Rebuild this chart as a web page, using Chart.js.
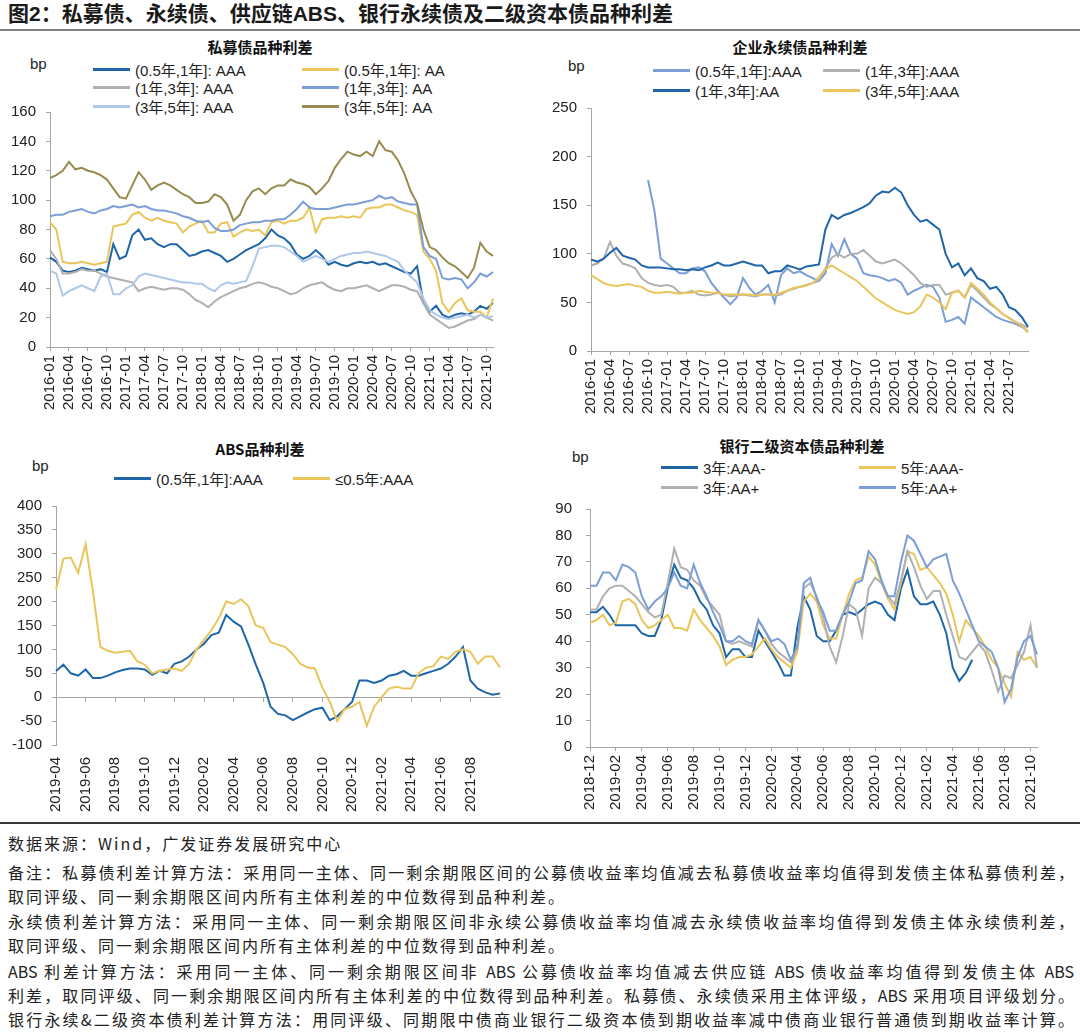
<!DOCTYPE html>
<html lang="zh-CN">
<head>
<meta charset="utf-8">
<title>图2：私募债、永续债、供应链ABS、银行永续债及二级资本债品种利差</title>
<script src="https://cdn.jsdelivr.net/npm/chart.js@4.4.1/dist/chart.umd.min.js"></script>
<style>
  html, body { margin: 0; padding: 0; background: #fff; }
  body { width: 1080px; height: 1034px; position: relative; overflow: hidden;
         font-family: "Liberation Sans", Arial, "Noto Sans CJK SC", sans-serif; color: #222; }
  .abs { position: absolute; }
  #mainTitle { left: 8px; top: 1px; font: 700 21px/26px "Liberation Sans", "Noto Sans CJK SC", sans-serif; color: #1a1a1a; white-space: nowrap; }
  #topRule { left: 0; top: 29px; width: 1080px; height: 2px; background: #808080; }
  #bottomRule { left: 0; top: 822px; width: 1080px; height: 2px; background: #3a3a3a; }
  .ctitle { font: 700 15px/20px "Noto Sans CJK SC", sans-serif; transform: translateX(-50%); white-space: nowrap; color: #111; }
  .unit { font-size: 15px; line-height: 18px; }
  .legend { display: grid; font-size: 15px; }
  .legend .item { display: flex; align-items: center; white-space: nowrap; }
  .legend .swatch { display: inline-block; width: 37px; height: 3px; margin-right: 5px; }
  .note { left: 8px; width: 1066px; font: 400 16px/24px "Noto Sans CJK SC", sans-serif; color: #222; }
  .note.full { text-align: justify; text-align-last: justify; }
  .note.part { letter-spacing: 2px; white-space: nowrap; }
</style>
</head>
<body>
<div id="mainTitle" class="abs">图2：私募债、永续债、供应链ABS、银行永续债及二级资本债品种利差</div>
<div id="topRule" class="abs"></div>

<div class="abs ctitle" style="left:260px; top:37px;">私募债品种利差</div>
<div class="abs unit" style="left:30px; top:55px;">bp</div>
<div id="legPriv" class="abs legend" style="left:93px; top:60px; grid-template-columns:209px auto; grid-auto-rows:18.5px;"></div>
<canvas id="chartPriv" class="abs" width="540" height="326" style="left:0; top:93px;"></canvas>

<div class="abs ctitle" style="left:800px; top:37px;">企业永续债品种利差</div>
<div class="abs unit" style="left:568px; top:57px;">bp</div>
<div id="legPerp" class="abs legend" style="left:653px; top:60px; grid-template-columns:170px auto; grid-auto-rows:20px;"></div>
<canvas id="chartPerp" class="abs" width="540" height="334" style="left:540px; top:89px;"></canvas>

<div class="abs ctitle" style="left:260px; top:439px;">ABS品种利差</div>
<div class="abs unit" style="left:32px; top:457px;">bp</div>
<div id="legAbs" class="abs legend" style="left:114px; top:468px; grid-template-columns:179px auto; grid-auto-rows:20px;"></div>
<canvas id="chartAbs" class="abs" width="540" height="330" style="left:0; top:487px;"></canvas>

<div class="abs ctitle" style="left:802px; top:436px;">银行二级资本债品种利差</div>
<div class="abs unit" style="left:572px; top:448px;">bp</div>
<div id="legBank" class="abs legend" style="left:661px; top:457px; grid-template-columns:198px auto; grid-auto-rows:20px;"></div>
<canvas id="chartBank" class="abs" width="540" height="333" style="left:540px; top:486px;"></canvas>

<div id="bottomRule" class="abs"></div>
<div class="abs note part" style="top:831px;">数据来源：Wind，广发证券发展研究中心</div>
<div class="abs note full" style="top:860px;">备注：私募债利差计算方法：采用同一主体、同一剩余期限区间的公募债收益率均值减去私募债收益率均值得到发债主体私募债利差，</div>
<div class="abs note part" style="top:884px;">取同评级、同一剩余期限区间内所有主体利差的中位数得到品种利差。</div>
<div class="abs note full" style="top:909px;">永续债利差计算方法：采用同一主体、同一剩余期限区间非永续公募债收益率均值减去永续债收益率均值得到发债主体永续债利差，</div>
<div class="abs note part" style="top:933px;">取同评级、同一剩余期限区间内所有主体利差的中位数得到品种利差。</div>
<div class="abs note full" style="top:959px;">ABS 利差计算方法：采用同一主体、同一剩余期限区间非 ABS 公募债收益率均值减去供应链 ABS 债收益率均值得到发债主体 ABS</div>
<div class="abs note full" style="top:983px;">利差，取同评级、同一剩余期限区间内所有主体利差的中位数得到品种利差。私募债、永续债采用主体评级，ABS 采用项目评级划分。</div>
<div class="abs note full" style="top:1007px;">银行永续&amp;二级资本债利差计算方法：用同评级、同期限中债商业银行二级资本债到期收益率减中债商业银行普通债到期收益率计算。</div>

<script>
// ---- categories (monthly for the top panels, half-monthly for the bottom ones)
const privCats = [
  '2016-01','2016-02','2016-03','2016-04','2016-05','2016-06','2016-07','2016-08','2016-09','2016-10','2016-11','2016-12',
  '2017-01','2017-02','2017-03','2017-04','2017-05','2017-06','2017-07','2017-08','2017-09','2017-10','2017-11','2017-12',
  '2018-01','2018-02','2018-03','2018-04','2018-05','2018-06','2018-07','2018-08','2018-09','2018-10','2018-11','2018-12',
  '2019-01','2019-02','2019-03','2019-04','2019-05','2019-06','2019-07','2019-08','2019-09','2019-10','2019-11','2019-12',
  '2020-01','2020-02','2020-03','2020-04','2020-05','2020-06','2020-07','2020-08','2020-09','2020-10','2020-11','2020-12',
  '2021-01','2021-02','2021-03','2021-04','2021-05','2021-06','2021-07','2021-08','2021-09','2021-10','2021-11'
];
const perpCats = privCats.slice(0, 70); // 2016-01 .. 2021-10

const absCats = [
  '2019-04-01','2019-04-16','2019-05-01','2019-05-16','2019-06-01','2019-06-16','2019-07-01','2019-07-16',
  '2019-08-01','2019-08-16','2019-09-01','2019-09-16','2019-10-01','2019-10-16','2019-11-01','2019-11-16',
  '2019-12-01','2019-12-16','2020-01-01','2020-01-16','2020-02-01','2020-02-16','2020-03-01','2020-03-16',
  '2020-04-01','2020-04-16','2020-05-01','2020-05-16','2020-06-01','2020-06-16','2020-07-01','2020-07-16',
  '2020-08-01','2020-08-16','2020-09-01','2020-09-16','2020-10-01','2020-10-16','2020-11-01','2020-11-16',
  '2020-12-01','2020-12-16','2021-01-01','2021-01-16','2021-02-01','2021-02-16','2021-03-01','2021-03-16',
  '2021-04-01','2021-04-16','2021-05-01','2021-05-16','2021-06-01','2021-06-16','2021-07-01','2021-07-16',
  '2021-08-01','2021-08-16','2021-09-01','2021-09-16','2021-10-01'
];

const bankCats = [
  '2018-12-01','2018-12-16',
  '2019-01-01','2019-01-16','2019-02-01','2019-02-16','2019-03-01','2019-03-16','2019-04-01','2019-04-16',
  '2019-05-01','2019-05-16','2019-06-01','2019-06-16','2019-07-01','2019-07-16','2019-08-01','2019-08-16',
  '2019-09-01','2019-09-16','2019-10-01','2019-10-16','2019-11-01','2019-11-16','2019-12-01','2019-12-16',
  '2020-01-01','2020-01-16','2020-02-01','2020-02-16','2020-03-01','2020-03-16','2020-04-01','2020-04-16',
  '2020-05-01','2020-05-16','2020-06-01','2020-06-16','2020-07-01','2020-07-16','2020-08-01','2020-08-16',
  '2020-09-01','2020-09-16','2020-10-01','2020-10-16','2020-11-01','2020-11-16','2020-12-01','2020-12-16',
  '2021-01-01','2021-01-16','2021-02-01','2021-02-16','2021-03-01','2021-03-16','2021-04-01','2021-04-16',
  '2021-05-01','2021-05-16','2021-06-01','2021-06-16','2021-07-01','2021-07-16','2021-08-01','2021-08-16',
  '2021-09-01','2021-09-16','2021-10-01','2021-10-16'
];

// ---- tick labels shown on the x axes
const privTicks = ['2016-01','2016-04','2016-07','2016-10','2017-01','2017-04','2017-07','2017-10',
  '2018-01','2018-04','2018-07','2018-10','2019-01','2019-04','2019-07','2019-10',
  '2020-01','2020-04','2020-07','2020-10','2021-01','2021-04','2021-07','2021-10'];
const perpTicks = ['2016-01','2016-04','2016-07','2016-10','2017-01','2017-04','2017-07','2017-10',
  '2018-01','2018-04','2018-07','2018-10','2019-01','2019-04','2019-07','2019-10',
  '2020-01','2020-04','2020-07','2020-10','2021-01','2021-04','2021-07'];
const absTicks = ['2019-04','2019-06','2019-08','2019-10','2019-12','2020-02','2020-04','2020-06',
  '2020-08','2020-10','2020-12','2021-02','2021-04','2021-06','2021-08'];
const bankTicks = ['2018-12','2019-02','2019-04','2019-06','2019-08','2019-10','2019-12','2020-02',
  '2020-04','2020-06','2020-08','2020-10','2020-12','2021-02','2021-04','2021-06','2021-08','2021-10'];

// ---- 私募债品种利差 (bp)
const privNames = ['(0.5年,1年]: AAA', '(0.5年,1年]: AA', '(1年,3年]: AAA', '(1年,3年]: AA', '(3年,5年]: AAA', '(3年,5年]: AA'];
const priv051AAA = [61,58,52,51,52,54,53,52,53,51, 70,60,62,76,80,73,74,70,68,70, 70,66,62,63,65,66,64,62,58,60,
  63,66,68,70,74,80,76,74,70,63, 60,62,66,62,56,58,56,55,57,58, 57,58,56,57,55,53,51,50,55,30,
  24,28,22,20,22,23,22,24,28,26, 30];
const priv051AA = [85,80,58,57,57,58,57,56,57,58, 82,83,84,90,92,88,86,88,86,85, 84,78,82,84,86,78,78,84,85,75,
  78,80,79,80,76,85,86,84,86,86, 88,95,78,87,88,88,89,88,89,88, 94,95,95,97,97,95,93,92,90,65,
  60,52,30,24,30,33,25,24,24,20, 33];
const priv13AAA = [66,60,50,50,51,53,52,52,50,48, 47,46,45,44,38,40,41,40,39,40, 40,39,36,32,30,27,31,34,36,38,
  40,41,43,44,43,41,40,38,36,37, 40,42,43,44,41,39,38,40,40,41, 42,40,38,40,42,42,41,39,38,30,
  22,19,16,13,14,16,18,19,22,20, 18];
const priv13AA = [89,90,90,92,93,94,92,91,93,94, 96,95,96,97,95,96,94,93,93,92, 91,89,88,86,85,86,81,79,79,80,
  83,84,85,85,86,86,87,87,90,94, 99,95,94,94,94,95,96,97,97,98, 99,100,103,101,102,99,98,97,97,68,
  62,60,47,46,47,46,40,44,50,48, 51];
const priv35AAA = [52,50,35,38,40,42,40,38,48,50, 36,36,40,42,48,50,49,48,47,46, 45,44,44,43,43,40,38,42,44,43,
  44,45,55,67,68,69,69,68,65,62, 58,60,62,60,58,60,62,63,64,64, 65,64,63,62,60,58,52,48,44,33,
  25,22,20,19,20,21,22,20,22,20, 21];
const priv35AA = [115,117,120,126,121,122,120,119,117,114, 108,102,101,110,119,114,107,110,112,110,
  107,104,102,98,98,99,104,102,97,86, 90,100,106,108,104,108,110,110,114,112,
  111,109,104,108,113,122,128,133,131,130, 133,130,140,134,133,127,118,106,98,80,
  68,66,61,57,55,51,47,54,71,65, 62];

// ---- 企业永续债品种利差 (bp)
const perpNames = ['(0.5年,1年]:AAA', '(1年,3年]:AAA', '(1年,3年]:AA', '(3年,5年]:AAA'];
const perp051AAA = [null,null,null,null,null,null,null,null,null,
  176,145,95,90,85,80,80,85,86,82, 70,62,55,48,55,75,65,58,62,68, 50,78,85,80,82,78,75,72,80,110,
  98,115,100,95,80,78,77,75,72,74, 70,58,62,65,68,66,55,30,32,35, 28,55,50,45,40,35,32,30,28,25, 20];
const perp13AAA = [88,90,95,112,98,90,88,85,75,70, 68,67,68,66,60,60,62,58,57,58, 60,58,56,57,58,57,56,58,58,57,
  58,62,64,66,68,70,72,85,96,100, 96,100,100,104,98,92,90,92,94,90, 84,78,70,66,68,68,58,60,62,55,
  68,62,55,48,44,38,34,30,27,24];
const perp13AA = [94,92,95,101,106,98,96,94,88,86, 86,86,85,84,84,83,84,83,86,88, 91,88,88,90,92,90,88,88,80,82,
  82,88,86,84,87,88,89,125,140,136, 140,142,145,148,152,160,164,163,168,163, 150,140,133,135,130,125,100,86,90,78,
  85,75,72,64,66,58,45,42,35,25];
const perp35AAA = [78,74,70,68,67,68,69,67,66,62, 60,60,61,60,59,60,60,62,61,60, 60,58,58,58,58,58,57,58,58,58,
  60,62,65,66,67,70,76,84,88,84, 80,76,72,66,60,54,50,46,42,40, 38,40,46,58,55,50,43,60,62,55,
  70,64,58,50,44,38,34,30,26,19];

// ---- ABS品种利差 (bp)
const absNames = ['(0.5年,1年]:AAA', '≤0.5年:AAA'];
const abs051AAA = [55,68,50,45,58,40,40,45,52,57, 60,60,58,47,55,50,70,75,85,100,
  112,130,135,172,158,148,110,68,30,-20, -35,-38,-48,-40,-32,-25,-22,-48,-40,-25,
  -10,35,35,30,35,45,48,55,45,45, 50,55,60,70,85,105,35,18,10,5, 8];
const abs05AAA = [225,290,292,260,320,220,105,97,93,95, 97,75,68,50,55,58,60,55,70,100,
  120,140,165,200,195,205,190,150,145,115, 110,105,90,70,62,60,20,-10,-50,-25,
  -20,-10,-60,-20,0,18,22,18,18,50, 62,65,85,80,95,100,95,70,85,85, 62];

// ---- 银行二级资本债品种利差 (bp)
const bankNames = ['3年:AAA-', '5年:AAA-', '3年:AA+', '5年:AA+'];
const bank3AAAm = [51,51,53,50,46,46,46,46,43,42, 42,48,60,69,64,63,60,55,52,46, 43,34,37,37,34,34,44,40,36,32,
  27,27,45,57,52,42,40,40,44,50, 51,50,52,54,55,54,50,48,60,67, 57,54,54,55,50,43,30,25,28,33,
  null,null,null,null,null,null,null,null,null,null];
const bank5AAAm = [47,48,50,46,47,55,56,54,48,45, 46,48,50,45,45,44,52,48,45,42, 38,31,33,34,34,35,38,41,37,34,
  32,30,36,55,58,55,46,41,41,50, 58,63,64,72,69,62,56,52,62,74, 73,67,68,65,62,58,50,40,48,45,
  42,38,33,30,24,19,36,33,34,30];
const bank3AAp = [52,52,57,60,61,61,59,57,54,51, 49,50,62,75,68,67,63,61,56,53, 50,40,39,40,39,38,48,44,39,36,
  34,32,38,60,62,57,49,38,32,42, 54,52,42,60,64,62,57,54,63,74, 68,61,56,59,59,50,42,34,33,36,
  39,36,29,21,27,26,31,36,46,30];
const bank5AAp = [61,61,66,66,63,69,68,66,57,52, 55,57,60,66,61,60,69,62,57,51, 46,40,40,42,40,39,48,44,40,41,
  39,33,38,62,64,56,51,44,44,50, 55,62,63,74,71,63,57,57,70,80, 78,73,68,71,72,73,63,58,52,46,
  40,38,36,30,17,22,34,40,42,35];

// ---- colours
const C = {
  dark: '#1f66a9',
  yellow: '#e9c55b',
  gray: '#b0b0b0',
  mid: '#7b9ed6',
  light: '#afc8ea',
  olive: '#978b4f'
};
const axisGray = '#a6a6a6';

Chart.defaults.font.family = '"Liberation Sans", Arial, sans-serif';
Chart.defaults.font.size = 15;
Chart.defaults.color = '#222';
Chart.defaults.animation = false;

// only the listed months get a label (and a tick mark)
function monthTicks(list) {
  return function (value) {
    const lab = this.getLabelForValue(value);
    if (lab.length > 7 && lab.slice(8) !== '01') return null;
    const ym = lab.slice(0, 7);
    return list.includes(ym) ? ym : null;
  };
}
const tickMarkColor = ctx => (ctx.tick && ctx.tick.label) ? axisGray : 'rgba(0,0,0,0)';

function buildLegend(elId, sets) {
  const el = document.getElementById(elId);
  sets.forEach(s => {
    const item = document.createElement('div');
    item.className = 'item';
    const sw = document.createElement('span');
    sw.className = 'swatch';
    sw.style.background = s.color;
    const tx = document.createElement('span');
    tx.textContent = s.label;
    item.appendChild(sw);
    item.appendChild(tx);
    el.appendChild(item);
  });
}

function buildChart(canvasId, cats, sets, opt) {
  const datasets = sets.map((s, i) => ({
    label: s.label,
    data: s.data,
    borderColor: s.color,
    backgroundColor: s.color,
    borderWidth: 2,
    pointRadius: 0,
    pointHoverRadius: 0,
    tension: 0,
    spanGaps: false,
    order: -i   // later series drawn on top
  }));

  const scales = {
    x: {
      type: 'category',
      grid: { display: !opt.zeroAxis, drawOnChartArea: false, tickLength: 4, tickColor: tickMarkColor },
      border: { display: !opt.zeroAxis, color: axisGray },
      ticks: { autoSkip: false, minRotation: 90, maxRotation: 90, padding: opt.zeroAxis ? 8 : 4,
               callback: monthTicks(opt.ticks) },
      afterFit: s => { s.height = opt.xHeight; }
    },
    y: {
      min: opt.min,
      max: opt.max,
      ticks: { stepSize: opt.step, padding: opt.yPad },
      grid: { drawOnChartArea: false, tickLength: 4, color: axisGray },
      border: { color: axisGray },
      afterFit: s => { s.width = opt.yWidth; }
    }
  };
  if (opt.zeroAxis) {
    scales.x0 = {
      type: 'category',
      position: { y: 0 },
      grid: { drawOnChartArea: false, tickLength: 4, tickColor: tickMarkColor },
      border: { color: axisGray },
      ticks: { display: false, autoSkip: false, callback: monthTicks(opt.ticks) }
    };
  }

  return new Chart(document.getElementById(canvasId), {
    type: 'line',
    data: { labels: cats, datasets: datasets },
    options: {
      responsive: false,
      animation: false,
      layout: { padding: { top: 12, right: opt.padRight, bottom: 0, left: 0 } },
      plugins: { legend: { display: false }, tooltip: { enabled: false }, title: { display: false } },
      scales: scales
    }
  });
}

const privSets = [
  { label: privNames[0], data: priv051AAA, color: C.dark },
  { label: privNames[1], data: priv051AA, color: C.yellow },
  { label: privNames[2], data: priv13AAA, color: C.gray },
  { label: privNames[3], data: priv13AA, color: C.mid },
  { label: privNames[4], data: priv35AAA, color: C.light },
  { label: privNames[5], data: priv35AA, color: C.olive }
];
const perpSets = [
  { label: perpNames[0], data: perp051AAA, color: C.mid },
  { label: perpNames[1], data: perp13AAA, color: C.gray },
  { label: perpNames[2], data: perp13AA, color: C.dark },
  { label: perpNames[3], data: perp35AAA, color: C.yellow }
];
const absSets = [
  { label: absNames[0], data: abs051AAA, color: C.dark },
  { label: absNames[1], data: abs05AAA, color: C.yellow }
];
const bankSets = [
  { label: bankNames[0], data: bank3AAAm, color: C.dark },
  { label: bankNames[1], data: bank5AAAm, color: C.yellow },
  { label: bankNames[2], data: bank3AAp, color: C.gray },
  { label: bankNames[3], data: bank5AAp, color: C.mid }
];

buildLegend('legPriv', privSets);
buildLegend('legPerp', perpSets);
buildLegend('legAbs', absSets);
buildLegend('legBank', bankSets);

buildChart('chartPriv', privCats, privSets,
  { min: 0, max: 160, step: 20, ticks: privTicks, yWidth: 50, yPad: 10, xHeight: 72, padRight: 47 });
buildChart('chartPerp', perpCats, perpSets,
  { min: 0, max: 250, step: 50, ticks: perpTicks, yWidth: 51, yPad: 10, xHeight: 72, padRight: 52 });
buildChart('chartAbs', absCats, absSets,
  { min: -100, max: 400, step: 50, ticks: absTicks, yWidth: 56, yPad: 10, xHeight: 72, padRight: 40, zeroAxis: true });
buildChart('chartBank', bankCats, bankSets,
  { min: 0, max: 90, step: 10, ticks: bankTicks, yWidth: 50, yPad: 14, xHeight: 72, padRight: 43 });
</script>
</body>
</html>
